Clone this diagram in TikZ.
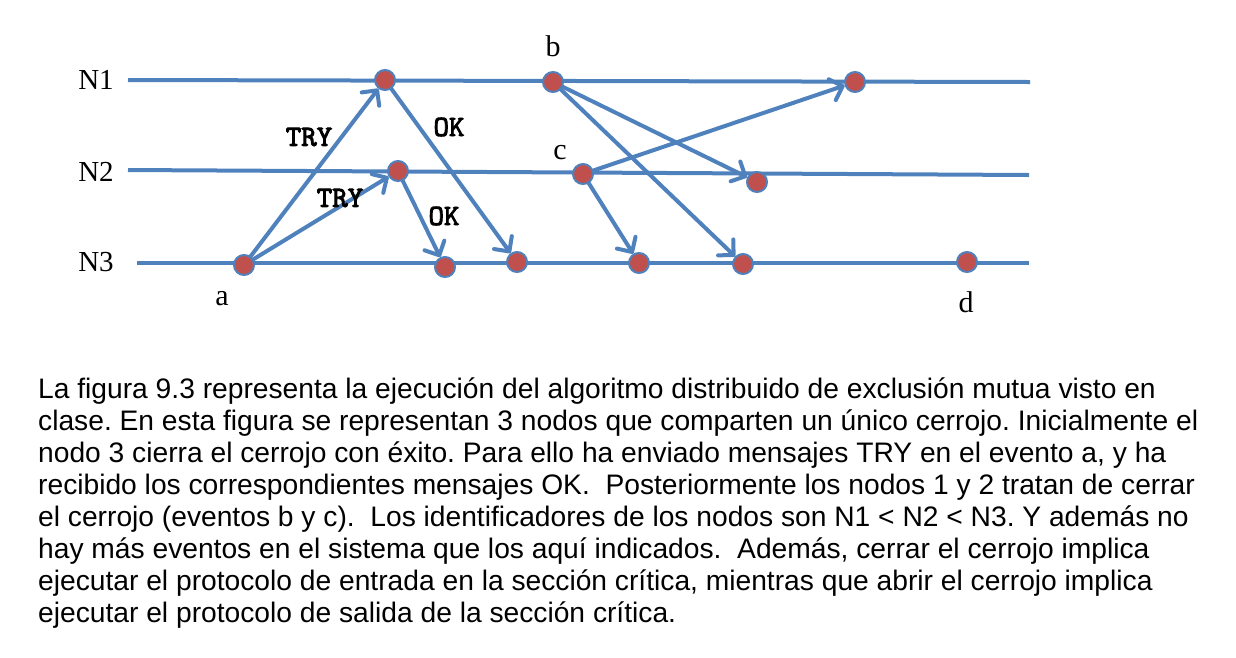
\documentclass[tikz,border=0pt]{standalone}
\usepackage{fontspec}
\setmainfont{Liberation Sans}
\newfontfamily\seriffont{Liberation Serif}
\newfontfamily\trymono{lmmono10-regular}[Extension=.otf,FakeBold=3]
\usetikzlibrary{arrows.meta}
\pgfdeclarelayer{bg}
\pgfsetlayers{bg,main}
\definecolor{lineblue}{HTML}{4F81BD}
\definecolor{dotred}{HTML}{C0504D}
\tikzset{
  evdot/.style={circle,minimum size=20pt,inner sep=0pt,fill=dotred,draw=lineblue,line width=2pt},
  procline/.style={draw=lineblue,line width=4pt},
  msg/.style={draw=lineblue,line width=4pt,-{Straight Barb[length=11pt,width=22pt,round]}},
  proclabel/.style={font=\seriffont\fontsize{29}{32}\selectfont,inner sep=0pt},
  evlabel/.style={font=\seriffont\fontsize{30}{32}\selectfont,inner sep=0pt},
  msglabel/.style={font=\trymono\fontsize{29.5}{30}\selectfont,inner sep=0pt},
  bodyline/.style={font=\fontsize{28.2}{32}\selectfont,anchor=base west,inner sep=0pt}
}
\frenchspacing
\begin{document}
\begin{tikzpicture}[x=1pt,y=-1pt]
\useasboundingbox (0,0) rectangle (1236,657);
% process labels
\node[proclabel] (l1) at (96,80) {N1};
\node[proclabel] (l2) at (96,172) {N2};
\node[proclabel] (l3) at (96,262) {N3};
% process lines
\coordinate (n1s) at (128,80);
\coordinate (n1e) at (1030,82);
\coordinate (n2s) at (128,170);
\coordinate (n2e) at (1029,175);
\coordinate (n3s) at (137,263);
\coordinate (n3e) at (1029,263);
% events
\node[evdot] (A) at (244,265) {};
\node[evdot] (P) at (385,80) {};
\node[evdot] (Q) at (398,171) {};
\node[evdot] (R1) at (445,267) {};
\node[evdot] (R2) at (517,262) {};
\node[evdot] (B) at (553,82) {};
\node[evdot] (C) at (583,174) {};
\node[evdot] (S) at (757,182) {};
\node[evdot] (T) at (855,82) {};
\node[evdot] (U) at (639,263) {};
\node[evdot] (V) at (743,264) {};
\node[evdot] (W) at (967,262) {};
% event labels
\node[evlabel] (la) at (222,299) {a};
\node[evlabel] (lb) at (553,46) {b};
\node[evlabel] (lc) at (560,153) {c};
\node[evlabel] (ld) at (966,302) {d};
% message labels
\node[msglabel] (try1) at (309,137) {TRY};
\node[msglabel] (try2) at (340,198) {TRY};
\node[msglabel] (ok1) at (449,127) {OK};
\node[msglabel] (ok2) at (444,216) {OK};
\begin{pgfonlayer}{bg}
\draw[procline] (n1s) -- (n1e);
\draw[procline] (n2s) -- (n2e);
\draw[procline] (n3s) -- (n3e);
\draw[msg] (A.center) -- (P);
\draw[msg] (A.center) -- (Q);
\draw[msg] (P.center) -- (R2);
\draw[msg] (Q.center) -- (R1);
\draw[msg] (B.center) -- (S);
\draw[msg] (B.center) -- (V);
\draw[msg] (C.center) -- (T);
\draw[msg] (C.center) -- (U);
\end{pgfonlayer}
% body text
\node[bodyline] (t1) at (38,398) {La figura 9.3 representa la ejecución del algoritmo distribuido de exclusión mutua visto en};
\node[bodyline] (t2) at (38,430) {clase. En esta figura se representan 3 nodos que comparten un único cerrojo. Inicialmente el};
\node[bodyline] (t3) at (38,462) {nodo 3 cierra el cerrojo con éxito. Para ello ha enviado mensajes TRY en el evento a, y ha};
\node[bodyline] (t4) at (38,494) {recibido los correspondientes mensajes OK.\ \ Posteriormente los nodos 1 y 2 tratan de cerrar};
\node[bodyline] (t5) at (38,526) {el cerrojo (eventos b y c).\ \ Los identificadores de los nodos son N1 < N2 < N3. Y además no};
\node[bodyline] (t6) at (38,558) {hay más eventos en el sistema que los aquí indicados.\ \ Además, cerrar el cerrojo implica};
\node[bodyline] (t7) at (38,590) {ejecutar el protocolo de entrada en la sección crítica, mientras que abrir el cerrojo implica};
\node[bodyline] (t8) at (38,622) {ejecutar el protocolo de salida de la sección crítica.};
\end{tikzpicture}
\end{document}
